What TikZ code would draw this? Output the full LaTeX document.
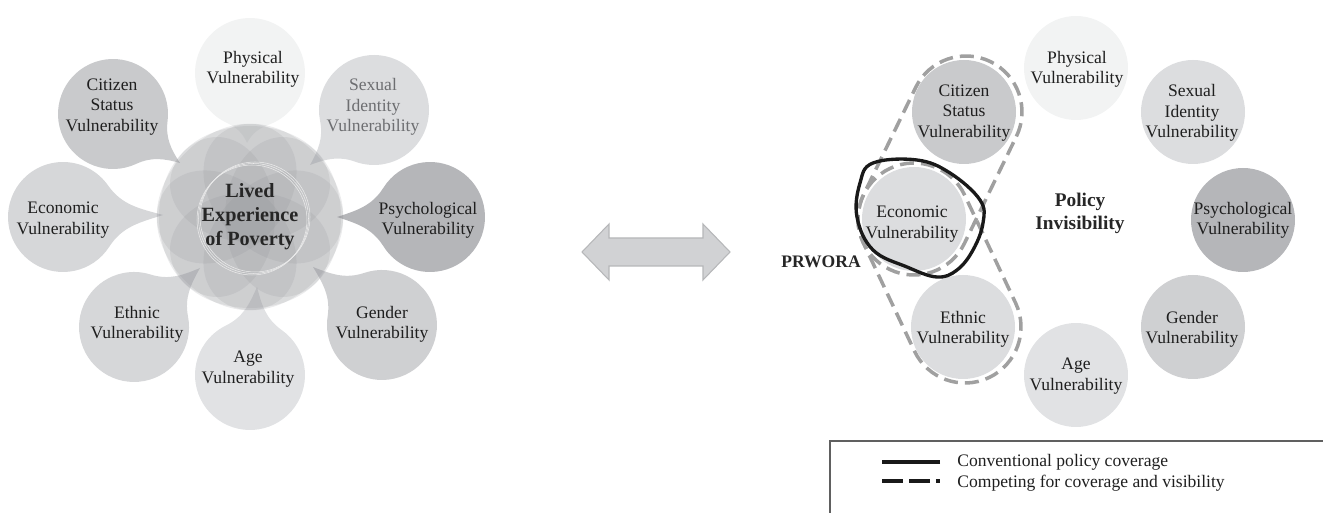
\documentclass[tikz,border=0pt]{standalone}
\usepackage{fontspec}
\setmainfont{Liberation Serif}
\usepackage{tikz}
\usepackage{xcolor}
\usetikzlibrary{positioning,calc}
\definecolor{physgray}{RGB}{242,243,243}
\definecolor{citgray}{RGB}{201,202,204}
\definecolor{sexgray}{RGB}{220,221,223}
\definecolor{ecogray}{RGB}{214,215,217}
\definecolor{psygray}{RGB}{181,182,185}
\definecolor{ethgray}{RGB}{214,215,217}
\definecolor{gengray}{RGB}{207,208,210}
\definecolor{agegray}{RGB}{225,226,228}
\definecolor{coregray}{RGB}{140,142,146}
\definecolor{fadetext}{RGB}{109,110,113}
\definecolor{arrowfill}{RGB}{209,210,212}
\definecolor{arrowline}{RGB}{182,183,185}
\definecolor{dashgray}{RGB}{160,160,160}
\definecolor{boxline}{RGB}{96,96,96}
\tikzset{
  vtext/.style={align=center,inner sep=0pt,font=\fontsize{10}{11.5}\selectfont,text=black!88},
  titletext/.style={align=center,inner sep=0pt,font=\bfseries\fontsize{11.5}{13.6}\selectfont,text=black!85},
  coreshade/.style={fill=coregray,fill opacity=0.17},
  dashloop/.style={draw=dashgray,line width=2pt,dash pattern=on 8pt off 4pt},
  solidloop/.style={draw=black!90,line width=1.9pt},
}
% teardrop: bulb centre (#1,#2), tip (#3,#4), fill #5 (pixel units, y down)
\newcommand{\drawpetal}[5]{%
  \pgfmathsetmacro\pd{veclen(#1-#3,#4-#2)}%
  \pgfmathsetmacro\pa{atan2(#4-#2,#1-#3)}%
  \pgfmathsetmacro\pb{acos(55/\pd)}%
  \pgfmathsetmacro\pf{180-0.6*\pb}%
  \pgfmathsetmacro\pg{0.5*(90-\pb)}%
  \pgfmathsetmacro\pin{\pf+90}%
  \pgfmathsetmacro\pout{-\pf-90}%
  \pgfmathsetmacro\pmg{-\pg}%
  \pgfmathsetmacro\pmf{-\pf}%
  \pgfmathsetmacro\jx{\pd+55*cos(\pf)}%
  \pgfmathsetmacro\jy{55*sin(\pf)}%
  \fill[#5,shift={(#3,-#4)},rotate=\pa] (0,0) to[out=\pg,in=\pin] (\jx,\jy)
    arc[start angle=\pf,end angle=\pmf,radius=55] to[out=\pout,in=\pmg] (0,0);%
}
% dashed capsule round two circle centres
\newcommand{\drawcapsule}[4]{%
  \pgfmathsetmacro\cl{veclen(#3-#1,#2-#4)}%
  \pgfmathsetmacro\ca{atan2(#2-#4,#3-#1)}%
  \draw[dashloop,shift={(#1,-#2)},rotate=\ca] (0,56) arc[start angle=90,end angle=270,radius=56]
    -- (\cl,-56) arc[start angle=-90,end angle=90,radius=56] -- cycle;%
}
\begin{document}
\begin{tikzpicture}[x=0.02cm,y=0.02cm]
\useasboundingbox (0,0) rectangle (1323,-513);
% left: petals round the core
\drawpetal{250}{73}{247}{143}{physgray}
\drawpetal{113}{114}{180}{163}{citgray}
\drawpetal{374}{110}{310}{165}{sexgray}
\drawpetal{63}{217}{163}{215}{ecogray}
\drawpetal{430}{217}{337}{217}{psygray}
\drawpetal{134}{327}{200}{268}{ethgray}
\drawpetal{382}{325}{313}{267}{gengray}
\drawpetal{250}{375}{257}{287}{agegray}
\foreach \a in {0,45,...,315}
  \fill[coreshade,rotate around={\a:(250,-217)}] (283,-217) ellipse[x radius=58,y radius=80];
\foreach \s in {0,1.5,3}
  \draw[white!85!gray,line width=0.3pt] (252+\s,-220+\s) circle[radius=55];
\node[titletext] (core) at (250,-217) {Lived\\Experience\\of Poverty};
\node[vtext] (lphys) at (253,-69) {Physical\\Vulnerability};
\node[vtext] (lcit) at (112,-107) {Citizen\\Status\\Vulnerability};
\node[vtext,text=fadetext] (lsex) at (373,-107) {Sexual\\Identity\\Vulnerability};
\node[vtext] (leco) at (63,-220) {Economic\\Vulnerability};
\node[vtext] (lpsy) at (428,-220) {Psychological\\Vulnerability};
\node[vtext] (leth) at (137,-324) {Ethnic\\Vulnerability};
\node[vtext] (lgen) at (382,-324) {Gender\\Vulnerability};
\node[vtext] (lage) at (248,-369) {Age\\Vulnerability};
% double arrow
\draw[fill=arrowfill,draw=arrowline,line width=0.6pt] (582,-252) -- (609,-224) -- (609,-238) -- (703,-238)
  -- (703,-224) -- (730,-252) -- (703,-280) -- (703,-266) -- (609,-266) -- (609,-280) -- cycle;
% right: separate circles
\fill[physgray] (1076,-68) circle[radius=52];
\fill[citgray] (964,-112) circle[radius=52];
\fill[sexgray] (1193,-112) circle[radius=52];
\fill[ecogray!85!white] (914,-219) circle[radius=52];
\fill[psygray] (1243,-220) circle[radius=52];
\fill[ethgray!85!white] (963,-327) circle[radius=52];
\fill[gengray] (1193,-327) circle[radius=52];
\fill[agegray] (1076,-375) circle[radius=52];
\node[vtext] (rphys) at (1077,-69) {Physical\\Vulnerability};
\node[vtext] (rcit) at (964,-113) {Citizen\\Status\\Vulnerability};
\node[vtext] (rsex) at (1192,-113) {Sexual\\Identity\\Vulnerability};
\node[vtext] (reco) at (912,-224) {Economic\\Vulnerability};
\node[vtext] (rpsy) at (1243,-220) {Psychological\\Vulnerability};
\node[vtext] (reth) at (963,-329) {Ethnic\\Vulnerability};
\node[vtext] (rgen) at (1192,-329) {Gender\\Vulnerability};
\node[vtext] (rage) at (1076,-376) {Age\\Vulnerability};
\node[titletext,font=\bfseries\fontsize{11}{13}\selectfont] (invis) at (1080,-213) {Policy\\Invisibility};
% coverage outlines
\drawcapsule{966}{112}{914}{219}
\drawcapsule{914}{219}{965}{327}
\draw[solidloop] plot[smooth cycle,tension=0.65] coordinates {(857,-217) (860,-183) (873,-163) (917,-160) (950,-173)
  (980,-200) (983,-223) (973,-250) (957,-270) (937,-277) (907,-267) (873,-250)};
\node[titletext,font=\bfseries\fontsize{10}{12}\selectfont] (prwora) at (821,-262) {PRWORA};
% legend
\draw[boxline,line width=0.8pt] (1323,-441) -- (830,-441) -- (830,-513);
\node[vtext,anchor=west] (legsolid) at (957,-462) {Conventional policy coverage};
\node[vtext,anchor=west] (legdash) at (957,-483) {Competing for coverage and visibility};
\draw[black!90,line width=2pt] ([xshift=-0.34cm]legsolid.west) -- ++(-58,0);
\draw[black!90,line width=2pt,dash pattern=on 0.42cm off 0.12cm] ([xshift=-0.34cm,yshift=1pt]legdash.west) ++(-58,0) -- ++(58,0);
\end{tikzpicture}
\end{document}
